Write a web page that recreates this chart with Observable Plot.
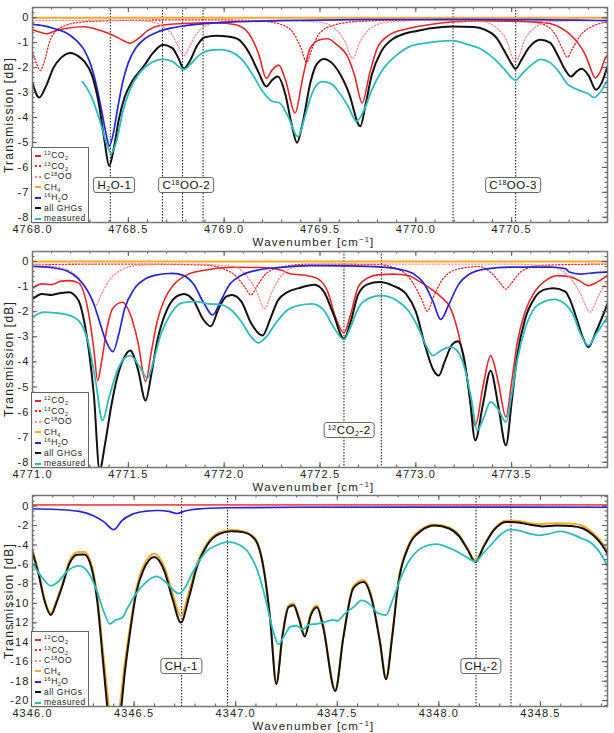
<!DOCTYPE html>
<html>
<head>
<meta charset="utf-8">
<script src="https://cdn.jsdelivr.net/npm/d3@7"></script>
<script src="https://cdn.jsdelivr.net/npm/@observablehq/plot@0.6"></script>
<style>
  body { margin: 0; background: #fff; }
  #chart { width: 614px; }
  .panel { position: relative; width: 614px; overflow: visible; }
  .panel svg { display: block; position: absolute; left: 0; top: 0; }
  .panel svg text { letter-spacing: 1.1px; }
  .axlab { position: absolute; font-family: "Liberation Sans", Arial, sans-serif; font-size: 11.5px;
           letter-spacing: 1.2px; color: #222; white-space: nowrap; line-height: 13px; z-index: 2; }
  .axlab sup { font-size: 7.5px; vertical-align: 4px; line-height: 0; }
  .tag { position: absolute; transform: translate(-50%, -50%); background: #fff; border: 1.3px solid #666;
         border-radius: 3px; padding: 0 3px; font-family: "Liberation Sans", Arial, sans-serif; font-size: 11.5px;
         letter-spacing: 0.5px; line-height: 14px; color: #111; white-space: nowrap; }
  .tag sup { font-size: 7px; vertical-align: 4px; line-height: 0; }
  .tag sub { font-size: 7px; vertical-align: -2px; line-height: 0; }
  .legend { position: absolute; background: #fff; border: 1.5px solid #666; box-sizing: border-box;
            font-family: "Liberation Sans", Arial, sans-serif; font-size: 8.5px; letter-spacing: 0.5px; color: #222; }
  .legend .row { position: absolute; left: 0; height: 10.45px; line-height: 10.45px; white-space: nowrap; }
  .legend .swatch { position: absolute; left: 3px; top: 4.5px; width: 6px; height: 0; border-top-width: 2px; }
  .legend .txt { position: absolute; left: 12px; top: 0; }
  .legend sup { font-size: 5.5px; vertical-align: 3px; line-height: 0; }
  .legend sub { font-size: 5.5px; vertical-align: -1.5px; line-height: 0; }
</style>
</head>
<body>
<div id="chart"></div>
<script>
// ---------- Panel 1: 4768–4771 cm^-1 (transmission in dB) ----------
const p1_co2_12 = [[4768.00,-0.48],[4768.04,-0.58],[4768.076,-0.64],[4768.12,-0.52],[4768.18,-0.42],[4768.27,-0.36],[4768.35,-0.5],[4768.42,-0.7],[4768.47,-0.9],[4768.51,-1.02],[4768.55,-0.85],[4768.60,-0.52],[4768.665,-0.31],[4768.79,-0.23],[4768.90,-0.2],[4768.96,-0.2],[4769.06,-0.28],[4769.12,-0.55],[4769.18,-1.45],[4769.22,-2.43],[4769.25,-2.1],[4769.285,-1.9],[4769.32,-2.5],[4769.37,-3.82],[4769.41,-2.4],[4769.45,-1.2],[4769.50,-0.88],[4769.54,-0.84],[4769.59,-1.1],[4769.64,-1.5],[4769.68,-2.3],[4769.72,-3.42],[4769.76,-2.2],[4769.80,-1.2],[4769.86,-0.7],[4769.95,-0.45],[4770.05,-0.3],[4770.2,-0.16],[4770.35,-0.13],[4770.5,-0.14],[4770.62,-0.17],[4770.70,-0.23],[4770.76,-0.42],[4770.80,-0.64],[4770.85,-1.05],[4770.89,-1.58],[4770.915,-2.1],[4770.936,-2.41],[4770.96,-2.2],[4770.99,-1.6],[4771.0,-1.5]];
const p1_co2_13 = [[4768.00,-1.38],[4768.02,-1.8],[4768.04,-2.12],[4768.06,-1.8],[4768.09,-0.95],[4768.12,-0.55],[4768.17,-0.32],[4768.25,-0.18],[4768.4,-0.12],[4768.7,-0.09],[4769.0,-0.09],[4769.2,-0.14],[4769.3,-0.28],[4769.36,-0.6],[4769.40,-1.2],[4769.43,-1.78],[4769.46,-1.2],[4769.50,-0.6],[4769.58,-0.28],[4769.7,-0.15],[4770.0,-0.09],[4770.4,-0.09],[4770.6,-0.16],[4770.68,-0.32],[4770.73,-0.7],[4770.765,-1.25],[4770.79,-1.58],[4770.82,-1.2],[4770.86,-0.7],[4770.92,-0.35],[4771.0,-0.17]];
const p1_c18oo = [[4768.0,-0.12],[4768.4,-0.1],[4768.6,-0.14],[4768.68,-0.35],[4768.73,-0.7],[4768.76,-1.15],[4768.79,-1.52],[4768.82,-1.15],[4768.85,-0.7],[4768.9,-0.35],[4769.0,-0.15],[4769.3,-0.1],[4769.5,-0.18],[4769.58,-0.45],[4769.63,-0.95],[4769.67,-1.63],[4769.71,-0.95],[4769.76,-0.45],[4769.85,-0.18],[4770.1,-0.1],[4770.35,-0.16],[4770.42,-0.4],[4770.47,-0.85],[4770.52,-1.78],[4770.57,-0.85],[4770.62,-0.4],[4770.7,-0.16],[4771.0,-0.1]];
const p1_ch4 = [[4768.0,0.0],[4771.0,0.0]];
const p1_h2o = [[4768.00,-0.27],[4768.06,-0.33],[4768.12,-0.45],[4768.18,-0.62],[4768.23,-0.92],[4768.27,-1.3],[4768.30,-1.8],[4768.33,-2.6],[4768.36,-3.7],[4768.385,-4.7],[4768.40,-5.15],[4768.42,-4.7],[4768.445,-3.6],[4768.47,-2.6],[4768.50,-1.8],[4768.54,-1.2],[4768.59,-0.82],[4768.65,-0.58],[4768.72,-0.42],[4768.80,-0.32],[4768.90,-0.24],[4769.05,-0.17],[4769.3,-0.12],[4769.7,-0.08],[4770.2,-0.07],[4770.6,-0.08],[4770.85,-0.10],[4771.0,-0.12]];
const p1_all = [[4768.00,-2.62],[4768.035,-3.2],[4768.07,-2.75],[4768.11,-2.0],[4768.15,-1.6],[4768.2,-1.41],[4768.24,-1.55],[4768.27,-1.75],[4768.31,-2.3],[4768.345,-3.4],[4768.375,-4.9],[4768.40,-5.94],[4768.425,-5.2],[4768.45,-4.1],[4768.48,-3.2],[4768.52,-2.55],[4768.58,-1.95],[4768.63,-1.4],[4768.68,-1.08],[4768.73,-1.22],[4768.76,-1.6],[4768.79,-2.04],[4768.82,-1.75],[4768.86,-1.1],[4768.90,-0.78],[4768.96,-0.72],[4769.02,-0.75],[4769.07,-0.85],[4769.13,-1.4],[4769.18,-2.2],[4769.22,-2.76],[4769.25,-2.5],[4769.28,-2.36],[4769.32,-3.1],[4769.35,-4.2],[4769.38,-5.01],[4769.41,-4.2],[4769.45,-2.6],[4769.48,-1.9],[4769.52,-1.65],[4769.56,-1.8],[4769.60,-2.2],[4769.65,-3.0],[4769.71,-4.35],[4769.74,-3.4],[4769.77,-2.3],[4769.82,-1.35],[4769.88,-0.85],[4769.94,-0.64],[4770.00,-0.54],[4770.08,-0.42],[4770.19,-0.35],[4770.30,-0.37],[4770.36,-0.48],[4770.42,-0.8],[4770.46,-1.3],[4770.50,-1.85],[4770.52,-2.05],[4770.55,-1.7],[4770.59,-1.2],[4770.65,-0.88],[4770.70,-1.0],[4770.74,-1.5],[4770.78,-2.1],[4770.81,-2.36],[4770.84,-2.15],[4770.865,-2.05],[4770.90,-2.3],[4770.94,-2.89],[4770.97,-2.6],[4771.0,-1.95]];
const p1_meas = [[4768.26,-2.56],[4768.31,-3.2],[4768.35,-4.1],[4768.385,-5.0],[4768.41,-5.44],[4768.44,-4.9],[4768.47,-3.8],[4768.51,-2.85],[4768.56,-2.2],[4768.62,-1.8],[4768.68,-1.67],[4768.73,-1.75],[4768.765,-1.98],[4768.79,-2.07],[4768.82,-1.9],[4768.87,-1.5],[4768.93,-1.3],[4768.98,-1.28],[4769.03,-1.35],[4769.09,-1.65],[4769.15,-2.3],[4769.20,-2.95],[4769.25,-3.35],[4769.29,-3.42],[4769.33,-3.9],[4769.385,-4.77],[4769.42,-4.0],[4769.46,-3.0],[4769.51,-2.56],[4769.56,-2.65],[4769.60,-3.0],[4769.65,-3.6],[4769.69,-4.15],[4769.73,-3.7],[4769.77,-2.9],[4769.83,-2.05],[4769.90,-1.5],[4769.97,-1.15],[4770.05,-1.02],[4770.12,-0.95],[4770.19,-0.92],[4770.26,-1.05],[4770.35,-1.3],[4770.41,-1.65],[4770.46,-2.05],[4770.52,-2.5],[4770.56,-2.2],[4770.61,-1.85],[4770.65,-1.67],[4770.70,-1.8],[4770.74,-2.1],[4770.79,-2.65],[4770.85,-2.9],[4770.90,-3.05],[4770.93,-3.2],[4770.96,-3.0],[4771.0,-2.5]];
const p1_marks = [4768.406, 4768.678, 4768.783, 4768.89, 4770.194, 4770.521];
const p1_tags = [{x: 4768.43, y: -6.73, html: "H<sub>2</sub>O-1"}, {x: 4768.805, y: -6.73, html: "C<sup>18</sup>OO-2"}, {x: 4770.51, y: -6.73, html: "C<sup>18</sup>OO-3"}];

// ---------- Panel 2: 4771–4774 cm^-1 ----------
const p2_co2_12 = [[4771.0,-1.06],[4771.05,-0.89],[4771.10,-0.92],[4771.15,-0.78],[4771.19,-0.76],[4771.24,-0.85],[4771.27,-1.3],[4771.30,-2.4],[4771.32,-3.5],[4771.34,-4.74],[4771.36,-4.0],[4771.39,-2.6],[4771.42,-1.85],[4771.47,-1.62],[4771.51,-2.1],[4771.55,-3.2],[4771.59,-4.78],[4771.62,-3.6],[4771.65,-2.4],[4771.69,-1.49],[4771.74,-0.9],[4771.80,-0.55],[4771.89,-0.36],[4772.05,-0.23],[4772.2,-0.24],[4772.30,-0.35],[4772.345,-0.49],[4772.43,-0.56],[4772.49,-0.69],[4772.54,-1.2],[4772.58,-2.2],[4772.625,-2.84],[4772.66,-2.1],[4772.70,-1.0],[4772.75,-0.65],[4772.80,-0.53],[4772.88,-0.5],[4772.96,-0.56],[4773.02,-0.8],[4773.08,-1.1],[4773.13,-1.4],[4773.18,-1.85],[4773.22,-2.8],[4773.26,-4.3],[4773.31,-6.54],[4773.35,-5.0],[4773.39,-3.75],[4773.43,-4.8],[4773.47,-6.2],[4773.50,-4.8],[4773.53,-3.2],[4773.57,-2.0],[4773.62,-1.2],[4773.67,-0.8],[4773.74,-0.56],[4773.80,-0.6],[4773.85,-0.75],[4773.90,-0.96],[4773.95,-0.8],[4774.0,-0.55]];
const p2_co2_13 = [[4771.0,-0.12],[4771.5,-0.1],[4771.9,-0.14],[4772.0,-0.3],[4772.07,-0.65],[4772.11,-1.05],[4772.14,-1.33],[4772.17,-1.0],[4772.21,-0.55],[4772.28,-0.25],[4772.45,-0.1],[4772.8,-0.12],[4772.92,-0.35],[4772.98,-0.8],[4773.03,-1.5],[4773.06,-1.98],[4773.09,-1.45],[4773.14,-0.7],[4773.22,-0.3],[4773.33,-0.2],[4773.40,-0.5],[4773.44,-0.85],[4773.47,-1.1],[4773.50,-0.85],[4773.55,-0.4],[4773.65,-0.15],[4774.0,-0.1]];
const p2_c18oo = [[4771.0,-0.1],[4771.1,-0.18],[4771.2,-0.4],[4771.26,-0.85],[4771.30,-1.35],[4771.33,-1.75],[4771.36,-1.3],[4771.40,-0.75],[4771.46,-0.35],[4771.55,-0.15],[4771.8,-0.1],[4772.05,-0.2],[4772.12,-0.6],[4772.17,-1.2],[4772.21,-1.88],[4772.25,-1.2],[4772.30,-0.55],[4772.38,-0.2],[4772.6,-0.1],[4773.5,-0.1],[4773.7,-0.2],[4773.80,-0.6],[4773.86,-1.3],[4773.91,-2.02],[4773.95,-1.4],[4774.0,-0.8]];
const p2_ch4 = [[4771.0,0.0],[4774.0,0.0]];
const p2_h2o = [[4771.0,-0.19],[4771.1,-0.24],[4771.18,-0.38],[4771.24,-0.69],[4771.29,-1.2],[4771.32,-1.69],[4771.35,-2.4],[4771.38,-3.1],[4771.42,-3.59],[4771.45,-2.9],[4771.48,-1.9],[4771.53,-1.1],[4771.59,-0.69],[4771.65,-0.53],[4771.73,-0.47],[4771.79,-0.56],[4771.84,-0.9],[4771.89,-1.6],[4771.94,-2.13],[4771.98,-1.6],[4772.03,-0.9],[4772.09,-0.55],[4772.17,-0.35],[4772.28,-0.24],[4772.45,-0.16],[4772.65,-0.17],[4772.82,-0.22],[4772.92,-0.32],[4772.99,-0.5],[4773.04,-0.85],[4773.09,-1.6],[4773.13,-2.31],[4773.17,-1.75],[4773.22,-0.95],[4773.28,-0.5],[4773.36,-0.3],[4773.5,-0.22],[4773.7,-0.22],[4773.78,-0.28],[4773.80,-0.42],[4773.86,-0.5],[4773.94,-0.44],[4774.0,-0.42]];
const p2_all = [[4771.0,-1.49],[4771.05,-1.29],[4771.10,-1.33],[4771.15,-1.25],[4771.19,-1.22],[4771.24,-1.55],[4771.27,-2.4],[4771.30,-3.9],[4771.32,-5.3],[4771.35,-8.3],[4771.38,-7.2],[4771.41,-5.8],[4771.44,-4.68],[4771.48,-3.8],[4771.51,-3.55],[4771.55,-4.3],[4771.59,-5.54],[4771.62,-4.5],[4771.65,-3.2],[4771.70,-1.95],[4771.75,-1.4],[4771.79,-1.29],[4771.84,-1.55],[4771.89,-2.3],[4771.93,-2.58],[4771.97,-1.9],[4772.01,-1.4],[4772.04,-1.33],[4772.09,-1.6],[4772.14,-2.45],[4772.20,-2.95],[4772.24,-2.3],[4772.28,-1.55],[4772.33,-1.22],[4772.39,-1.06],[4772.47,-0.93],[4772.52,-1.2],[4772.57,-2.1],[4772.625,-3.08],[4772.66,-2.4],[4772.70,-1.3],[4772.75,-0.9],[4772.81,-0.82],[4772.88,-0.96],[4772.95,-1.3],[4773.00,-2.0],[4773.05,-3.4],[4773.09,-4.3],[4773.12,-4.54],[4773.15,-4.0],[4773.19,-3.3],[4773.22,-3.18],[4773.25,-3.8],[4773.28,-5.34],[4773.31,-7.13],[4773.35,-5.7],[4773.39,-4.35],[4773.43,-5.74],[4773.47,-7.33],[4773.50,-5.6],[4773.53,-3.7],[4773.57,-2.3],[4773.62,-1.45],[4773.67,-1.12],[4773.72,-1.06],[4773.78,-1.2],[4773.80,-1.45],[4773.84,-2.3],[4773.87,-3.0],[4773.90,-3.41],[4773.94,-2.8],[4774.0,-1.69]];
const p2_meas = [[4771.0,-2.22],[4771.06,-2.02],[4771.12,-2.05],[4771.18,-2.12],[4771.24,-2.35],[4771.29,-3.2],[4771.33,-4.8],[4771.365,-6.34],[4771.40,-5.4],[4771.44,-4.4],[4771.48,-3.85],[4771.51,-3.75],[4771.56,-4.21],[4771.60,-4.65],[4771.63,-4.0],[4771.67,-2.9],[4771.72,-2.1],[4771.78,-1.65],[4771.85,-1.6],[4771.92,-1.69],[4771.98,-1.72],[4772.04,-1.95],[4772.09,-2.4],[4772.14,-3.0],[4772.18,-3.24],[4772.22,-3.0],[4772.27,-2.45],[4772.32,-2.0],[4772.39,-1.75],[4772.46,-1.69],[4772.52,-1.95],[4772.57,-2.6],[4772.625,-3.11],[4772.66,-2.6],[4772.70,-1.85],[4772.76,-1.45],[4772.82,-1.36],[4772.90,-1.55],[4772.96,-1.95],[4773.01,-2.6],[4773.05,-3.3],[4773.09,-3.75],[4773.13,-3.55],[4773.18,-3.41],[4773.22,-3.6],[4773.26,-4.4],[4773.29,-5.5],[4773.32,-6.74],[4773.35,-6.3],[4773.39,-5.6],[4773.43,-5.9],[4773.47,-6.4],[4773.50,-5.3],[4773.53,-3.9],[4773.57,-2.68],[4773.62,-1.85],[4773.67,-1.6],[4773.72,-1.51],[4773.78,-1.7],[4773.82,-2.1],[4773.86,-2.9],[4773.90,-3.35],[4773.94,-2.9],[4774.0,-2.22]];
const p2_marks = [4772.625, 4772.82];
const p2_tags = [{x: 4772.655, y: -6.73, html: "<sup>12</sup>CO<sub>2</sub>-2"}];

// ---------- Panel 3: 4346–4348.83 cm^-1 ----------
const p3_co2_12 = [[4346.0,0.12],[4348.83,0.12]];
const p3_co2_13 = [[4346.0,0.08],[4348.83,0.08]];
const p3_c18oo = [[4346.0,0.05],[4348.83,0.05]];
const p3_ch4 = [[4346.0,-4.5],[4346.03,-6.8],[4346.06,-9.6],[4346.09,-11.0],[4346.12,-9.6],[4346.15,-7.8],[4346.18,-5.7],[4346.22,-4.75],[4346.255,-4.7],[4346.29,-6.0],[4346.32,-9.4],[4346.345,-14.5],[4346.37,-19.5],[4346.40,-24],[4346.43,-20.5],[4346.455,-16],[4346.48,-12.4],[4346.51,-8.6],[4346.545,-6.2],[4346.60,-4.9],[4346.65,-6.3],[4346.69,-9.0],[4346.73,-11.3],[4346.77,-8.8],[4346.81,-5.9],[4346.86,-3.8],[4346.92,-2.7],[4346.98,-2.45],[4347.04,-2.6],[4347.095,-3.3],[4347.14,-6.6],[4347.17,-11.5],[4347.20,-18.1],[4347.23,-13.2],[4347.26,-10.2],[4347.285,-10.0],[4347.31,-11.3],[4347.34,-13.2],[4347.37,-11.0],[4347.40,-10.2],[4347.43,-12.2],[4347.49,-18.8],[4347.53,-13.3],[4347.58,-8.2],[4347.63,-7.6],[4347.67,-9.4],[4347.71,-13.8],[4347.74,-17.6],[4347.77,-13.3],[4347.80,-7.8],[4347.85,-4.05],[4347.91,-2.45],[4347.98,-1.9],[4348.05,-2.2],[4348.10,-3.0],[4348.14,-4.3],[4348.18,-5.6],[4348.22,-4.1],[4348.27,-2.4],[4348.33,-1.5],[4348.38,-1.5],[4348.45,-1.75],[4348.51,-1.85],[4348.58,-1.75],[4348.65,-1.8],[4348.71,-2.05],[4348.76,-2.8],[4348.80,-3.7],[4348.83,-4.6]];
const p3_h2o = [[4346.0,-0.27],[4346.12,-0.35],[4346.23,-0.55],[4346.30,-1.0],[4346.35,-1.6],[4346.40,-2.42],[4346.44,-1.5],[4346.49,-0.85],[4346.55,-0.55],[4346.62,-0.45],[4346.67,-0.55],[4346.71,-0.76],[4346.75,-0.5],[4346.82,-0.28],[4346.95,-0.17],[4347.3,-0.12],[4348.0,-0.1],[4348.83,-0.12]];
const p3_all = [[4346.0,-4.74],[4346.03,-7.0],[4346.06,-9.8],[4346.09,-11.2],[4346.12,-9.8],[4346.15,-8.0],[4346.18,-6.0],[4346.22,-5.0],[4346.255,-4.97],[4346.29,-6.3],[4346.32,-10.0],[4346.345,-15.5],[4346.37,-21],[4346.40,-26],[4346.43,-22],[4346.455,-17],[4346.48,-13.0],[4346.51,-9.0],[4346.545,-6.6],[4346.60,-5.24],[4346.65,-6.73],[4346.69,-9.6],[4346.73,-11.97],[4346.77,-9.4],[4346.81,-6.2],[4346.86,-4.0],[4346.92,-2.85],[4346.98,-2.59],[4347.04,-2.7],[4347.095,-3.42],[4347.14,-6.73],[4347.17,-11.7],[4347.20,-18.3],[4347.23,-13.4],[4347.26,-10.4],[4347.285,-10.2],[4347.31,-11.5],[4347.34,-13.4],[4347.37,-11.2],[4347.40,-10.4],[4347.43,-12.4],[4347.49,-19.0],[4347.53,-13.5],[4347.58,-8.4],[4347.63,-7.8],[4347.67,-9.6],[4347.71,-14],[4347.74,-17.8],[4347.77,-13.5],[4347.80,-8.0],[4347.85,-4.2],[4347.91,-2.59],[4347.98,-2.0],[4348.05,-2.3],[4348.10,-3.1],[4348.14,-4.41],[4348.18,-5.74],[4348.22,-4.2],[4348.27,-2.5],[4348.33,-1.63],[4348.38,-1.65],[4348.45,-1.92],[4348.51,-2.09],[4348.58,-2.0],[4348.65,-2.05],[4348.71,-2.3],[4348.76,-3.0],[4348.80,-3.9],[4348.83,-4.9]];
const p3_meas = [[4346.0,-5.9],[4346.05,-7.4],[4346.09,-8.2],[4346.13,-7.7],[4346.17,-6.7],[4346.23,-6.14],[4346.28,-7.0],[4346.32,-8.9],[4346.35,-10.8],[4346.38,-12.1],[4346.41,-11.7],[4346.44,-11.5],[4346.47,-10.4],[4346.50,-9.3],[4346.55,-8.0],[4346.61,-7.23],[4346.66,-7.9],[4346.72,-9.0],[4346.75,-8.4],[4346.79,-6.73],[4346.86,-4.58],[4346.91,-4.0],[4346.96,-3.68],[4347.02,-4.0],[4347.07,-5.0],[4347.11,-6.8],[4347.15,-9.8],[4347.18,-12.5],[4347.21,-14.2],[4347.24,-13.3],[4347.27,-12.4],[4347.30,-12.3],[4347.33,-12.7],[4347.36,-12.2],[4347.40,-12.1],[4347.44,-11.9],[4347.48,-11.7],[4347.50,-11.8],[4347.54,-11.0],[4347.58,-10.4],[4347.62,-9.7],[4347.66,-10.1],[4347.70,-11.0],[4347.74,-11.2],[4347.77,-9.8],[4347.81,-7.5],[4347.85,-5.74],[4347.90,-4.5],[4347.95,-4.0],[4347.99,-3.9],[4348.05,-4.3],[4348.10,-4.8],[4348.14,-5.3],[4348.18,-5.67],[4348.22,-4.8],[4348.26,-3.9],[4348.30,-3.0],[4348.35,-2.42],[4348.40,-2.55],[4348.45,-2.85],[4348.49,-3.0],[4348.54,-2.85],[4348.60,-2.6],[4348.65,-2.85],[4348.70,-3.3],[4348.75,-3.8],[4348.80,-5.0],[4348.83,-6.2]];
const p3_marks = [4346.734, 4346.96, 4348.183, 4348.355];
const p3_tags = [{x: 4346.735, y: -16.5, html: "CH<sub>4</sub>-1"}, {x: 4348.21, y: -16.5, html: "CH<sub>4</sub>-2"}];

// ---------- Axis ticks ----------
const p1_xticks = [4768.0, 4768.5, 4769.0, 4769.5, 4770.0, 4770.5];
const p2_xticks = [4771.0, 4771.5, 4772.0, 4772.5, 4773.0, 4773.5];
const p3_xticks = [4346.0, 4346.5, 4347.0, 4347.5, 4348.0, 4348.5];
const dbTicks8 = [0, -1, -2, -3, -4, -5, -6, -7, -8];
const dbTicks20 = [0, -2, -4, -6, -8, -10, -12, -14, -16, -18, -20];

// Legend entries (species and line styles)
const legendItems = [
  {html: "<sup>12</sup>CO<sub>2</sub>", color: "#e8262a", style: "solid"},
  {html: "<sup>13</sup>CO<sub>2</sub>", color: "#e8262a", style: "dotted"},
  {html: "C<sup>18</sup>OO", color: "#f58c8c", style: "dotted"},
  {html: "CH<sub>4</sub>", color: "#f7a928", style: "solid"},
  {html: "<sup>16</sup>H<sub>2</sub>O", color: "#2424dc", style: "solid"},
  {html: "all GHGs", color: "#111", style: "solid"},
  {html: "measured", color: "#2bbcbc", style: "solid"}
];

const W = 614, ML = 32, MR = 7;
const FONT = '"Liberation Sans", Arial, sans-serif';

function spectra(s) {
  const o = (stroke, strokeWidth, dash) => ({
    x: d => d[0], y: d => d[1], stroke, strokeWidth, curve: "monotone-x", clip: true,
    strokeLinejoin: "round", ...(dash ? {strokeDasharray: dash} : {})
  });
  return [
    Plot.line(s.co2_12, o("#e8262a", 1.6)),
    Plot.line(s.co2_13, o("#e8262a", 1.3, "1.3,2")),
    Plot.line(s.c18oo, o("#f58c8c", 1.3, "1.3,2")),
    Plot.line(s.ch4, o("#f7a928", 2)),
    Plot.line(s.h2o, o("#2424dc", 1.7)),
    Plot.line(s.all, o("#111", 2)),
    Plot.line(s.meas, o("#2bbcbc", 1.8))
  ];
}

function panel(cfg) {
  const fh = cfg.height - cfg.mt - cfg.mb, fw = W - ML - MR;
  const [x0, x1] = cfg.xDomain, [y0, y1] = cfg.yDomain;
  const xMinor = d3.range(Math.ceil(x0 * 10) / 10, x1 + 1e-9, 0.1).map(v => +v.toFixed(1));
  const yMinor = d3.range(Math.ceil(y0 / cfg.yMinorStep) * cfg.yMinorStep, y1 + 1e-9, cfg.yMinorStep).map(v => +v.toFixed(2));
  const tickStroke = {stroke: "#555", strokeWidth: 1};
  const plot = Plot.plot({
    width: W, height: cfg.height,
    marginLeft: ML, marginRight: MR, marginTop: cfg.mt, marginBottom: cfg.mb,
    x: {domain: cfg.xDomain},
    y: {domain: cfg.yDomain},
    style: {fontFamily: FONT, fontSize: "11px", color: "#222", background: "transparent", overflow: "visible"},
    marks: [
      Plot.ruleX(cfg.marks, {x: d => d, stroke: "#111", strokeWidth: 1, strokeDasharray: "1.5,1.5"}),
      ...spectra(cfg.series),
      // inward ticks on all four sides
      Plot.tickX(cfg.xTicks, {x: d => d, insetTop: fh - 5, ...tickStroke}),
      Plot.tickX(cfg.xTicks, {x: d => d, insetBottom: fh - 5, ...tickStroke}),
      Plot.tickX(xMinor, {x: d => d, insetTop: fh - 2.5, ...tickStroke}),
      Plot.tickX(xMinor, {x: d => d, insetBottom: fh - 2.5, ...tickStroke}),
      Plot.tickY(cfg.yTicks, {y: d => d, insetRight: fw - 5, ...tickStroke}),
      Plot.tickY(cfg.yTicks, {y: d => d, insetLeft: fw - 5, ...tickStroke}),
      Plot.tickY(yMinor, {y: d => d, insetRight: fw - 2.5, ...tickStroke}),
      Plot.tickY(yMinor, {y: d => d, insetLeft: fw - 2.5, ...tickStroke}),
      Plot.frame({stroke: "#777", strokeWidth: 1.5}),
      Plot.axisX({ticks: cfg.xTicks, tickSize: 0, tickPadding: 3, tickFormat: d3.format(".1f"), label: null}),
      Plot.axisY({ticks: cfg.yTicks, tickSize: 0, tickPadding: 3, tickFormat: d => String(d), label: null})
    ]
  });

  const wrap = document.createElement("div");
  wrap.className = "panel";
  wrap.style.height = cfg.height + "px";
  wrap.append(plot);

  const xs = plot.scale("x"), ys = plot.scale("y");
  const fx = xs.apply ? v => xs.apply(v) : d3.scaleLinear(cfg.xDomain, [ML, W - MR]);
  const fy = ys.apply ? v => ys.apply(v) : d3.scaleLinear(cfg.yDomain, [cfg.height - cfg.mb, cfg.mt]);

  // axis titles
  const xl = document.createElement("div");
  xl.className = "axlab";
  xl.innerHTML = "Wavenumber [cm<sup>\u22121</sup>]";
  xl.style.left = (ML + fw / 2 - 6) + "px";
  xl.style.top = (cfg.height - cfg.mb + 13.5) + "px";
  xl.style.transform = "translateX(-50%)";
  wrap.append(xl);

  const yl = document.createElement("div");
  yl.className = "axlab";
  yl.textContent = "Transmission [dB]";
  yl.style.fontSize = "12px";
  yl.style.lineHeight = "12px";
  yl.style.left = "9px";
  yl.style.top = (cfg.mt + fh / 2) + "px";
  yl.style.transform = "translate(-50%, -50%) rotate(-90deg)";
  wrap.append(yl);

  // labelled line boxes
  for (const t of cfg.tags) {
    const d = document.createElement("div");
    d.className = "tag";
    d.innerHTML = t.html;
    d.style.left = fx(t.x) + "px";
    d.style.top = fy(t.y) + "px";
    wrap.append(d);
  }

  // legend in the lower-left corner of the frame
  const lg = document.createElement("div");
  lg.className = "legend";
  const lh = 76;
  lg.style.left = (ML - 1) + "px";
  lg.style.top = (cfg.height - cfg.mb - lh + 1) + "px";
  lg.style.width = "58px";
  lg.style.height = lh + "px";
  legendItems.forEach((it, i) => {
    const r = document.createElement("div");
    r.className = "row";
    r.style.top = (2.3 + i * 10.45) + "px";
    r.innerHTML = `<span class="swatch" style="border-top-style:${it.style};border-top-color:${it.color}"></span><span class="txt">${it.html}</span>`;
    lg.append(r);
  });
  wrap.append(lg);
  return wrap;
}

const chart = document.getElementById("chart");
chart.append(panel({
  height: 245, mt: 7, mb: 23,
  xDomain: [4768.0, 4771.0], yDomain: [-8.21, 0.41],
  xTicks: p1_xticks, yTicks: dbTicks8, yMinorStep: 0.2,
  marks: p1_marks, tags: p1_tags,
  series: {co2_12: p1_co2_12, co2_13: p1_co2_13, c18oo: p1_c18oo, ch4: p1_ch4, h2o: p1_h2o, all: p1_all, meas: p1_meas}
}));
chart.append(panel({
  height: 244, mt: 6, mb: 22,
  xDomain: [4771.0, 4774.0], yDomain: [-8.21, 0.4],
  xTicks: p2_xticks, yTicks: dbTicks8, yMinorStep: 0.2,
  marks: p2_marks, tags: p2_tags,
  series: {co2_12: p2_co2_12, co2_13: p2_co2_13, c18oo: p2_c18oo, ch4: p2_ch4, h2o: p2_h2o, all: p2_all, meas: p2_meas}
}));
chart.append(panel({
  height: 244, mt: 6, mb: 27,
  xDomain: [4346.0, 4348.83], yDomain: [-20.6, 1.09],
  xTicks: p3_xticks, yTicks: dbTicks20, yMinorStep: 0.5,
  marks: p3_marks, tags: p3_tags,
  series: {co2_12: p3_co2_12, co2_13: p3_co2_13, c18oo: p3_c18oo, ch4: p3_ch4, h2o: p3_h2o, all: p3_all, meas: p3_meas}
}));
</script>
</body>
</html>
